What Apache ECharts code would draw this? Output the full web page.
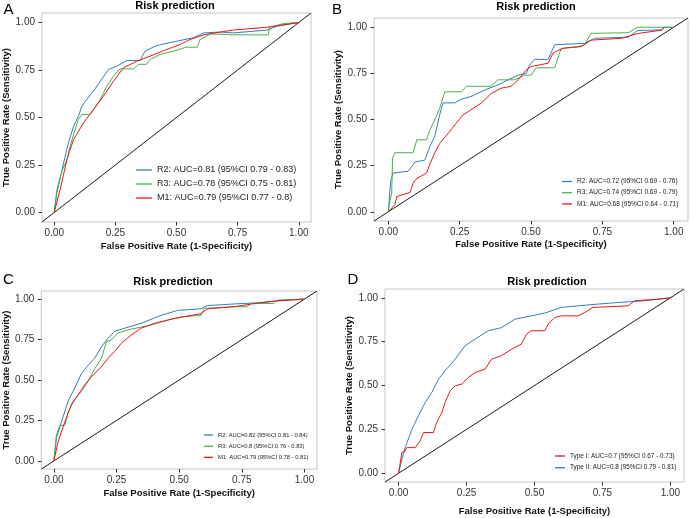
<!DOCTYPE html>
<html>
<head>
<meta charset="UTF-8">
<title>Risk prediction ROC</title>
<script src="https://cdn.jsdelivr.net/npm/echarts@6/dist/echarts.min.js"></script>
<style>
  html, body { margin: 0; padding: 0; background: #fff; }
  #main { width: 690px; height: 518px; }
</style>
</head>
<body>
<div id="main"></div>
<script>
// ---- data ----
var tickValues = [0, 0.25, 0.5, 0.75, 1];
var panelLetters = ['A', 'B', 'C', 'D'];
var panelTitle = 'Risk prediction';
var xTitle = 'False Positive Rate (1-Specificity)';
var yTitle = 'True Positive Rate (Sensitivity)';

// panel A
var namesA = ['R2: AUC=0.81 (95%CI 0.79 - 0.83)', 'R3: AUC=0.78 (95%CI 0.75 - 0.81)', 'M1: AUC=0.79 (95%CI 0.77 - 0.8)'];
var a_R2 = [[0,0],[0.011,0.104],[0.038,0.26],[0.058,0.367],[0.079,0.454],[0.099,0.507],[0.113,0.56],[0.133,0.595],[0.16,0.638],[0.188,0.69],[0.222,0.753],[0.256,0.77],[0.297,0.8],[0.351,0.8],[0.371,0.849],[0.412,0.875],[0.453,0.889],[0.514,0.905],[0.569,0.92],[0.61,0.945],[0.68,0.95],[0.73,0.945],[0.87,0.96],[0.91,0.98],[1,1]];
var a_R3 = [[0,0],[0.011,0.121],[0.031,0.217],[0.052,0.279],[0.065,0.349],[0.079,0.41],[0.099,0.489],[0.113,0.516],[0.147,0.516],[0.167,0.551],[0.188,0.595],[0.215,0.665],[0.242,0.717],[0.269,0.756],[0.324,0.756],[0.345,0.78],[0.378,0.78],[0.392,0.805],[0.433,0.832],[0.487,0.849],[0.54,0.87],[0.585,0.87],[0.596,0.91],[0.64,0.94],[0.73,0.935],[0.875,0.935],[0.88,0.975],[0.94,0.995],[1,1]];
var a_M1 = [[0,0],[0.024,0.121],[0.052,0.279],[0.079,0.384],[0.12,0.472],[0.16,0.542],[0.201,0.612],[0.242,0.691],[0.283,0.762],[0.337,0.796],[0.392,0.823],[0.46,0.858],[0.514,0.884],[0.555,0.91],[0.61,0.935],[0.73,0.96],[0.87,0.975],[1,1]];

// panel B
var namesB = ['R2: AUC=0.72 (95%CI 0.69 - 0.76)', 'R3: AUC=0.74 (95%CI 0.69 - 0.79)', 'M1: AUC=0.68 (95%CI 0.64 - 0.71)'];
var b_R2 = [[0,0],[0.009,0.173],[0.017,0.21],[0.07,0.22],[0.087,0.255],[0.093,0.27],[0.128,0.28],[0.146,0.355],[0.163,0.41],[0.18,0.525],[0.192,0.59],[0.233,0.59],[0.256,0.61],[0.29,0.625],[0.338,0.66],[0.385,0.688],[0.42,0.715],[0.455,0.74],[0.484,0.75],[0.495,0.795],[0.513,0.826],[0.56,0.826],[0.583,0.905],[0.688,0.913],[0.723,0.94],[0.84,0.946],[0.874,0.982],[0.96,0.986],[0.967,1],[1,1]];
var b_R3 = [[0,0],[0.006,0.065],[0.012,0.1],[0.015,0.29],[0.023,0.32],[0.087,0.32],[0.1,0.39],[0.134,0.39],[0.145,0.44],[0.157,0.48],[0.169,0.52],[0.18,0.56],[0.198,0.65],[0.256,0.65],[0.274,0.68],[0.36,0.68],[0.385,0.715],[0.443,0.715],[0.478,0.74],[0.5,0.74],[0.518,0.78],[0.583,0.78],[0.6,0.86],[0.606,0.885],[0.664,0.895],[0.688,0.905],[0.71,0.967],[0.84,0.97],[0.874,1],[1,1]];
var b_M1 = [[0,0],[0.023,0.038],[0.03,0.083],[0.076,0.105],[0.087,0.155],[0.1,0.18],[0.134,0.21],[0.146,0.26],[0.163,0.32],[0.18,0.37],[0.21,0.425],[0.233,0.47],[0.262,0.525],[0.297,0.56],[0.326,0.59],[0.36,0.64],[0.396,0.67],[0.43,0.68],[0.455,0.715],[0.484,0.77],[0.5,0.787],[0.56,0.805],[0.577,0.86],[0.612,0.886],[0.676,0.895],[0.71,0.93],[0.816,0.94],[0.874,0.966],[0.956,0.984],[0.967,1]];

// panel C
var namesC = ['R2: AUC=0.82 (95%CI 0.81 - 0.84)', 'R3: AUC=0.8 (95%CI 0.76 - 0.83)', 'M1: AUC=0.79 (95%CI 0.78 - 0.81)'];
var c_R2 = [[0,0],[0.01,0.14],[0.03,0.24],[0.057,0.37],[0.083,0.45],[0.11,0.54],[0.136,0.59],[0.163,0.635],[0.19,0.706],[0.216,0.758],[0.242,0.8],[0.282,0.82],[0.348,0.85],[0.428,0.9],[0.494,0.93],[0.587,0.94],[0.613,0.96],[0.72,0.97],[0.85,0.98],[0.89,0.99],[1,1]];
var c_R3 = [[0,0],[0.01,0.16],[0.024,0.22],[0.044,0.22],[0.057,0.3],[0.077,0.37],[0.11,0.43],[0.136,0.49],[0.163,0.57],[0.19,0.635],[0.21,0.737],[0.229,0.747],[0.256,0.79],[0.295,0.81],[0.388,0.84],[0.454,0.87],[0.507,0.89],[0.587,0.9],[0.6,0.943],[0.72,0.953],[0.772,0.953],[0.785,0.973],[0.878,0.973],[0.891,0.994],[1,1]];
var c_M1 = [[0,0],[0.017,0.12],[0.044,0.244],[0.07,0.347],[0.097,0.41],[0.123,0.47],[0.15,0.52],[0.19,0.583],[0.216,0.634],[0.242,0.676],[0.269,0.727],[0.309,0.778],[0.348,0.82],[0.401,0.85],[0.48,0.88],[0.587,0.91],[0.613,0.94],[0.72,0.953],[0.85,0.984],[1,1]];

// panel D
var namesD = ['Type I: AUC=0.7 (95%CI 0.67 - 0.73)', 'Type II: AUC=0.8 (95%CI 0.79 - 0.81)'];
var d_T1 = [[0,0],[0.012,0.118],[0.024,0.127],[0.03,0.146],[0.061,0.146],[0.079,0.184],[0.092,0.232],[0.128,0.232],[0.14,0.289],[0.159,0.346],[0.171,0.403],[0.19,0.47],[0.208,0.498],[0.232,0.508],[0.257,0.546],[0.281,0.574],[0.318,0.593],[0.342,0.65],[0.379,0.67],[0.416,0.707],[0.452,0.736],[0.471,0.793],[0.489,0.812],[0.538,0.812],[0.55,0.85],[0.575,0.888],[0.599,0.897],[0.66,0.897],[0.685,0.916],[0.715,0.945],[0.844,0.954],[0.868,0.983],[0.954,0.992],[1,1]];
var d_T2 = [[0,0],[0.012,0.08],[0.024,0.146],[0.049,0.25],[0.073,0.327],[0.098,0.403],[0.122,0.46],[0.147,0.536],[0.171,0.584],[0.208,0.65],[0.244,0.726],[0.281,0.764],[0.33,0.812],[0.379,0.83],[0.428,0.878],[0.489,0.897],[0.538,0.913],[0.599,0.945],[0.66,0.954],[0.733,0.964],[0.807,0.973],[0.905,0.983],[1,1]];

var diagonal = [[-0.05,-0.05],[1.05,1.05]];

// ---- layout ----
var FONT = '"Liberation Sans", Arial, sans-serif';
var BLUE = '#377EB8', GREEN = '#4DAF4A', RED = '#E41A1C';

var grids = [
  {left: 41, top: 13, width: 270, height: 209},
  {left: 374, top: 18, width: 314, height: 203},
  {left: 40, top: 291, width: 277, height: 178},
  {left: 385, top: 289, width: 299, height: 193}
];
var xGaps = [19, 18.5, 19, 24];
var yGaps = [31, 26, 30, 30];

function fmt(v) { return v.toFixed(2); }

var xAxes = [], yAxes = [];
grids.forEach(function (g, i) {
  g.show = true;
  g.borderColor = '#c6c6c6';
  g.borderWidth = 1;
  g.containLabel = false;
  var common = {
    type: 'value', min: -0.05, max: 1.05, gridIndex: i,
    splitLine: {show: false},
    axisLine: {show: false, onZero: false},
    axisTick: {show: true, length: 3.5, customValues: tickValues, lineStyle: {color: '#333', width: 1}},
    axisLabel: {customValues: tickValues, formatter: fmt, fontSize: 10, color: '#333', fontFamily: FONT, margin: 6},
    nameLocation: 'middle',
    nameTextStyle: {fontSize: 9.5, fontWeight: 'bold', color: '#111', fontFamily: FONT}
  };
  xAxes.push(Object.assign({}, common, {name: xTitle, nameGap: xGaps[i]}));
  yAxes.push(Object.assign({}, common, {
    name: yTitle, nameGap: yGaps[i], nameRotate: 90,
    axisLabel: Object.assign({}, common.axisLabel, {margin: 7})
  }));
});

function curve(name, data, color, idx) {
  return {
    name: name, type: 'line', data: data, xAxisIndex: idx, yAxisIndex: idx,
    color: color, showSymbol: false, symbol: 'none', clip: true,
    lineStyle: {width: 1, color: color}
  };
}
function diag(idx) {
  return {
    type: 'line', data: diagonal, xAxisIndex: idx, yAxisIndex: idx,
    showSymbol: false, symbol: 'none', silent: true, color: '#1a1a1a',
    lineStyle: {width: 1, color: '#1a1a1a'}
  };
}

var series = [
  diag(0),
  curve(namesA[0], a_R2, BLUE, 0), curve(namesA[1], a_R3, GREEN, 0), curve(namesA[2], a_M1, RED, 0),
  diag(1),
  curve(namesB[0], b_R2, BLUE, 1), curve(namesB[1], b_R3, GREEN, 1), curve(namesB[2], b_M1, RED, 1),
  diag(2),
  curve(namesC[0], c_R2, BLUE, 2), curve(namesC[1], c_R3, GREEN, 2), curve(namesC[2], c_M1, RED, 2),
  diag(3),
  curve(namesD[1], d_T2, BLUE, 3), curve(namesD[0], d_T1, RED, 3)
];

function legend(names, left, top, w, fs, lh, gap) {
  return {
    data: names, orient: 'vertical', left: left, top: top, padding: 0,
    icon: 'rect', itemWidth: w, itemHeight: 1.3, itemGap: gap,
    selectedMode: false,
    textStyle: {fontSize: fs, lineHeight: lh, color: '#222', fontFamily: FONT}
  };
}

var legends = [
  legend(namesA, 136, 165, 16, 9, 10, 4),
  legend(namesB, 562, 178, 10, 6.5, 7, 4.2),
  legend(namesC, 204, 432, 9, 5.8, 6, 5.2),
  legend(namesD, 555, 452.5, 10, 6.4, 7, 4.7)
];

var titlePos = [[175, 6], [536, 7], [173, 281.5], [547, 281.5]];
var letterPos = [[8.5, 10], [337, 10], [8.5, 280], [353, 280]];
var graphics = [];
titlePos.forEach(function (p) {
  graphics.push({type: 'text', x: p[0], y: p[1], silent: true,
    style: {text: panelTitle, font: 'bold 11px ' + FONT, fill: '#000', textAlign: 'center', textVerticalAlign: 'middle'}});
});
letterPos.forEach(function (p, i) {
  graphics.push({type: 'text', x: p[0], y: p[1], silent: true,
    style: {text: panelLetters[i], font: '15px ' + FONT, fill: '#000', textAlign: 'center', textVerticalAlign: 'middle'}});
});

var myChart = echarts.init(document.getElementById('main'));
myChart.setOption({
  animation: false,
  backgroundColor: '#fff',
  grid: grids,
  xAxis: xAxes,
  yAxis: yAxes,
  legend: legends,
  series: series,
  graphic: graphics
});
</script>
</body>
</html>
